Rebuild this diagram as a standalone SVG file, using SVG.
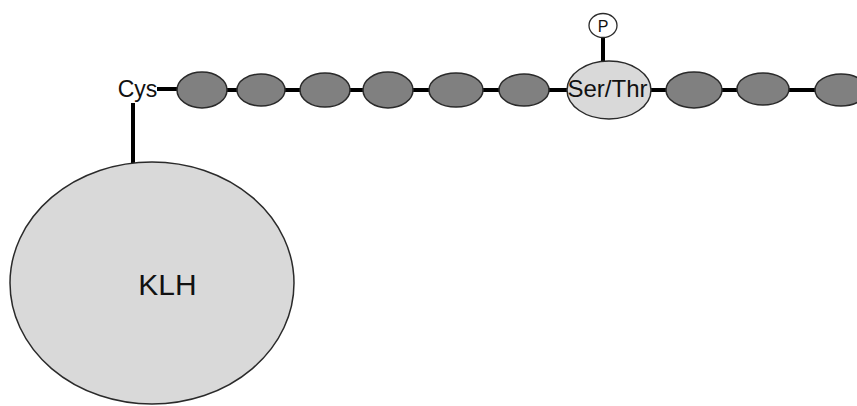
<svg xmlns="http://www.w3.org/2000/svg" width="857" height="406" viewBox="0 0 857 406">
  <style>
    .bond { stroke: #000; stroke-width: 4; fill: none; }
    .res { fill: #808080; stroke: #2a2a2a; stroke-width: 1.5; }
    .site { fill: #d9d9d9; stroke: #2a2a2a; stroke-width: 1.5; }
    .phos { fill: #fff; stroke: #2a2a2a; stroke-width: 1.3; }
    .lbl { font-family: "Liberation Sans", Arial, sans-serif; fill: #111; }
  </style>
  <rect width="857" height="406" fill="#fff"/>

  <!-- peptide backbone bonds and linker -->
  <g id="connectors">
    <line class="bond" x1="157" y1="89" x2="178" y2="89"/>
    <line class="bond" x1="226" y1="90" x2="238" y2="90"/>
    <line class="bond" x1="285" y1="90" x2="301" y2="90"/>
    <line class="bond" x1="349" y1="90" x2="364" y2="90"/>
    <line class="bond" x1="412" y1="90" x2="430" y2="90"/>
    <line class="bond" x1="482" y1="90" x2="501" y2="90"/>
    <line class="bond" x1="548" y1="90" x2="568" y2="90"/>
    <line class="bond" x1="650" y1="90" x2="667" y2="90"/>
    <line class="bond" x1="722" y1="90" x2="738" y2="90"/>
    <line class="bond" x1="788" y1="90" x2="816" y2="90"/>
    <line class="bond" x1="133" y1="103" x2="133" y2="164"/>
    <line class="bond" x1="603" y1="37" x2="603" y2="62"/>
  </g>

  <g id="klh">
    <ellipse class="site" cx="152" cy="283" rx="142" ry="121"/>
    <text class="lbl" x="167.5" y="295" font-size="30" text-anchor="middle">KLH</text>
  </g>

  <g id="cys">
    <text class="lbl" x="137.5" y="97" font-size="23" text-anchor="middle">Cys</text>
  </g>

  <g id="res1"><ellipse class="res" cx="202" cy="90" rx="25" ry="18"/></g>
  <g id="res2"><ellipse class="res" cx="261" cy="90" rx="24" ry="16"/></g>
  <g id="res3"><ellipse class="res" cx="325" cy="90" rx="25" ry="17"/></g>
  <g id="res4"><ellipse class="res" cx="388" cy="90" rx="25" ry="18"/></g>
  <g id="res5"><ellipse class="res" cx="456" cy="90" rx="27" ry="17"/></g>
  <g id="res6"><ellipse class="res" cx="524" cy="90" rx="25" ry="16"/></g>

  <g id="ser-thr">
    <ellipse class="site" cx="609" cy="90" rx="42" ry="29"/>
    <text class="lbl" x="607.5" y="97" font-size="24" text-anchor="middle">Ser/Thr</text>
  </g>

  <g id="phosphate">
    <ellipse class="phos" cx="603" cy="25.5" rx="14" ry="12"/>
    <text class="lbl" x="603" y="32" font-size="16" text-anchor="middle">P</text>
  </g>

  <g id="res7"><ellipse class="res" cx="694" cy="90" rx="28" ry="18"/></g>
  <g id="res8"><ellipse class="res" cx="763" cy="89" rx="26" ry="16"/></g>
  <g id="res9"><ellipse class="res" cx="841" cy="90" rx="26" ry="16"/></g>
</svg>
